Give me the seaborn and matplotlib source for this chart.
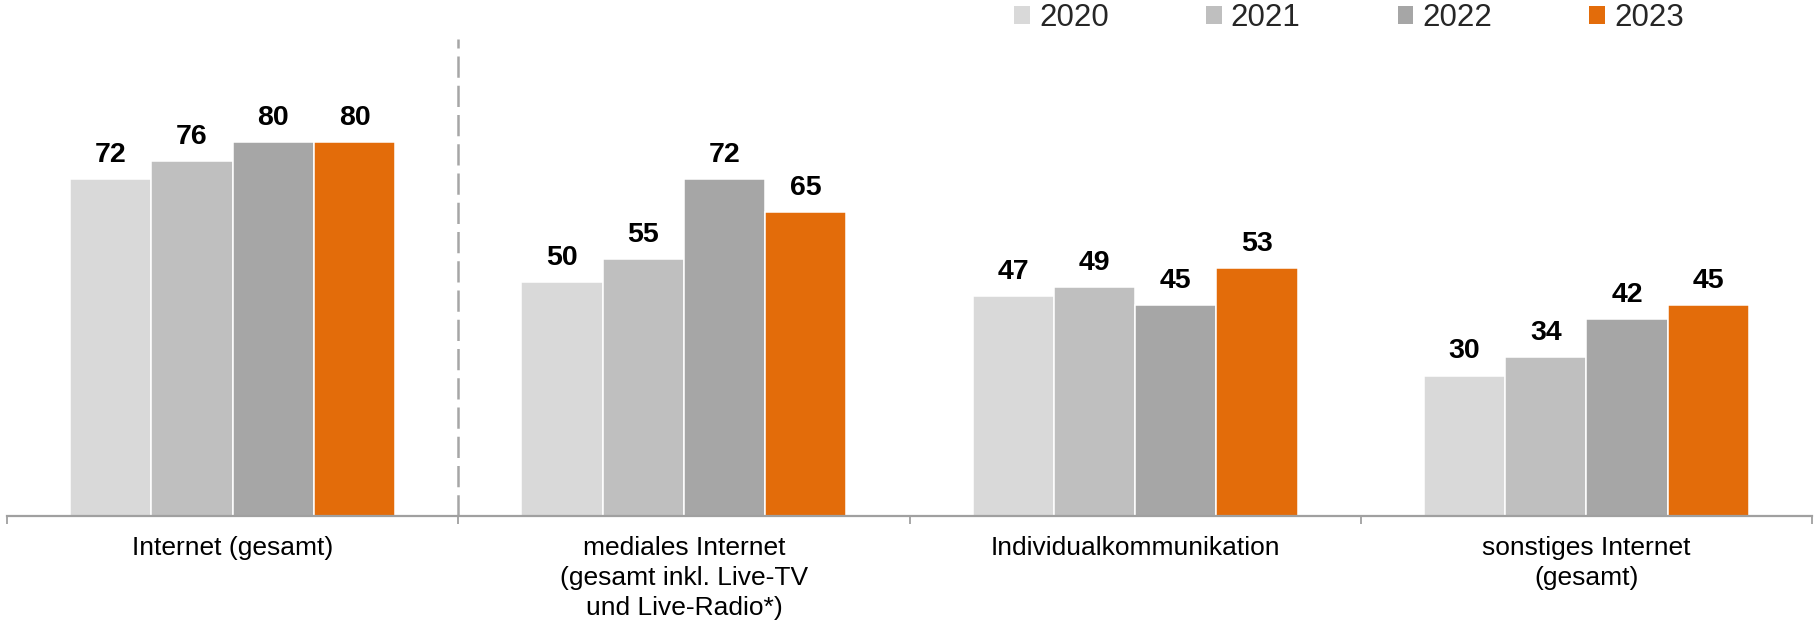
import matplotlib
matplotlib.use("Agg")
import matplotlib.pyplot as plt
import seaborn as sns
import pandas as pd
from matplotlib.patches import Patch

categories = [
    "Internet (gesamt)",
    "mediales Internet\n(gesamt inkl. Live-TV\nund Live-Radio*)",
    "Individualkommunikation",
    "sonstiges Internet\n(gesamt)",
]
years = ["2020", "2021", "2022", "2023"]
values_2020 = [72, 50, 47, 30]
values_2021 = [76, 55, 49, 34]
values_2022 = [80, 72, 45, 42]
values_2023 = [80, 65, 53, 45]
colors = ["#D9D9D9", "#BFBFBF", "#A6A6A6", "#E36C0A"]

series = {"2020": values_2020, "2021": values_2021, "2022": values_2022, "2023": values_2023}
rows = []
for y in years:
    for c, v in zip(categories, series[y]):
        rows.append({"Kategorie": c, "Jahr": y, "Wert": v})
df = pd.DataFrame(rows)

sns.set_theme(style="white")
plt.rcParams["font.family"] = ["Liberation Sans", "DejaVu Sans"]

fig = plt.figure(figsize=(18.16, 6.24), dpi=100)
ax = fig.add_axes([7 / 1816, 1 - 515.6 / 624, (1812 - 7) / 1816, (515.6 - 34.6) / 624])

sns.barplot(data=df, x="Kategorie", y="Wert", hue="Jahr", hue_order=years,
            order=categories, palette=colors, saturation=1, width=0.72, ax=ax,
            edgecolor="white", linewidth=1.1, legend=False, errorbar=None)

for cont in ax.containers:
    ax.bar_label(cont, fmt="%d", padding=8, fontsize=20.5, fontweight="bold", color="black")

ax.set_xlim(-0.5, len(categories) - 0.5)
ax.set_ylim(0, 103)
ax.set_xlabel("")
ax.set_ylabel("")
ax.set_yticks([])

for s in ["top", "right", "left"]:
    ax.spines[s].set_visible(False)
ax.spines["bottom"].set_color("#A0A0A0")
ax.spines["bottom"].set_linewidth(1.6)

ax.set_xticks(range(len(categories)))
ax.set_xticklabels(categories, fontsize=19, color="black", linespacing=1.3)
ax.tick_params(axis="x", which="major", length=0, pad=15)
ax.set_xticks([i - 0.5 for i in range(len(categories) + 1)], minor=True)
ax.tick_params(axis="x", which="minor", length=6, width=1.3, color="#A0A0A0", direction="out", bottom=True)

ax.axvline(0.5, ymin=0, ymax=102 / 103, color="#A6A6A6", linewidth=1.8,
           linestyle=(0, (8.5, 3.2)))

handles = [Patch(facecolor=c, edgecolor="none") for c in colors]
fig.legend(handles, years, loc="center right", bbox_to_anchor=(1684 / 1816, 1 - 18 / 624),
           ncol=4, frameon=False, fontsize=22.5, handlelength=0.5, handleheight=0.5,
           handletextpad=0.3, columnspacing=3.1, borderpad=0, borderaxespad=0)

fig.savefig("out.png", dpi=100)
